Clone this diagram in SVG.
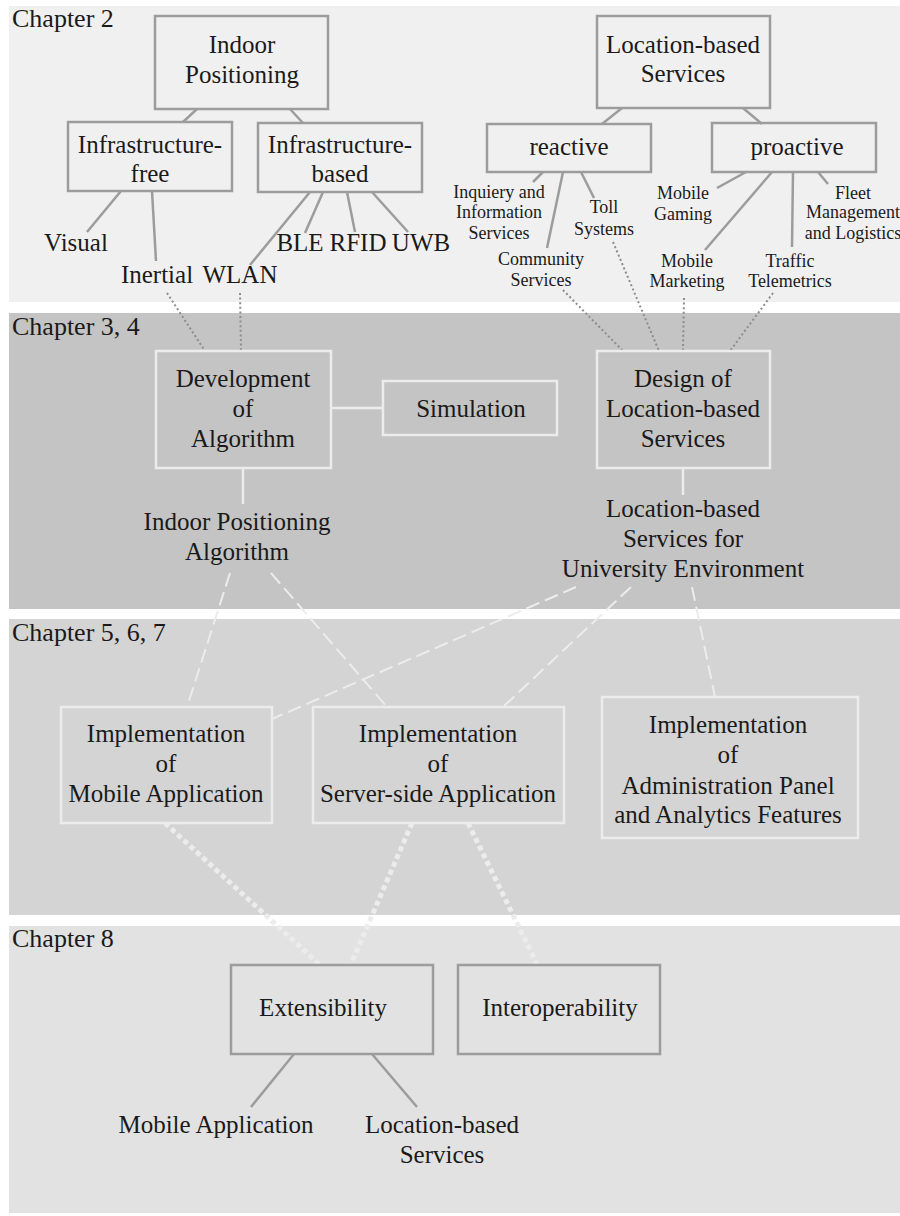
<svg xmlns="http://www.w3.org/2000/svg" width="900" height="1216" viewBox="0 0 900 1216">
<style>
text{font-family:"Liberation Serif","DejaVu Serif",serif;fill:#1a1a1a;text-anchor:middle}
.big{font-size:25px}
.sm{font-size:18px}
.ch{font-size:26px;text-anchor:start}
.bx1{fill:none;stroke:#9c9c9c;stroke-width:2.5}
.bxw{fill:none;stroke:#ececec;stroke-width:2.5}
.ln{stroke:#9c9c9c;stroke-width:2.5;fill:none}
.lnw{stroke:#ececec;stroke-width:2.5;fill:none}
.dot{stroke:#8c8c8c;stroke-width:2;stroke-dasharray:2 2.6;fill:none}
.dash{stroke:#ececec;stroke-width:2;stroke-dasharray:14 6;fill:none}
.tdot{stroke:#ececec;stroke-width:5;stroke-dasharray:5 3.5;fill:none}
</style>
<rect width="900" height="1216" fill="#ffffff"/>
<g id="bands">
<rect x="9" y="6" width="891" height="296" fill="#f0f0f0"/>
<rect x="9" y="313" width="891" height="296" fill="#c4c4c4"/>
<rect x="9" y="619" width="891" height="296" fill="#d4d4d4"/>
<rect x="9" y="926" width="891" height="287" fill="#e2e2e2"/>
<text class="ch" x="12" y="27">Chapter 2</text>
<text class="ch" x="12" y="335">Chapter 3, 4</text>
<text class="ch" x="12" y="641">Chapter 5, 6, 7</text>
<text class="ch" x="12" y="947">Chapter 8</text>
</g>
<g id="connectors">
<line class="ln" x1="197" y1="109" x2="183" y2="122"/>
<line class="ln" x1="290" y1="109" x2="303" y2="123"/>
<line class="ln" x1="121" y1="191" x2="87" y2="232"/>
<line class="ln" x1="152" y1="191" x2="156" y2="261"/>
<line class="ln" x1="310" y1="192" x2="250" y2="265"/>
<line class="ln" x1="323" y1="192" x2="305" y2="233"/>
<line class="ln" x1="347" y1="192" x2="355" y2="232"/>
<line class="ln" x1="372" y1="192" x2="408" y2="232"/>
<line class="ln" x1="622" y1="108" x2="602" y2="124"/>
<line class="ln" x1="743" y1="108" x2="762" y2="124"/>
<line class="ln" x1="543" y1="172" x2="533" y2="182"/>
<line class="ln" x1="563" y1="172" x2="547" y2="248"/>
<line class="ln" x1="581" y1="172" x2="594" y2="198"/>
<line class="ln" x1="746" y1="172" x2="717" y2="188"/>
<line class="ln" x1="772" y1="172" x2="705" y2="250"/>
<line class="ln" x1="793" y1="172" x2="792" y2="247"/>
<line class="ln" x1="818" y1="172" x2="828" y2="184"/>
<line class="dot" x1="167" y1="293" x2="205" y2="351"/>
<line class="dot" x1="240" y1="293" x2="241" y2="351"/>
<line class="dot" x1="563" y1="290" x2="623" y2="351"/>
<line class="dot" x1="613" y1="242" x2="659" y2="351"/>
<line class="dot" x1="684" y1="298" x2="683" y2="351"/>
<line class="dot" x1="773" y1="293" x2="730" y2="351"/>
<line class="lnw" x1="331" y1="408" x2="383" y2="408"/>
<line class="lnw" x1="243" y1="468" x2="243" y2="504"/>
<line class="lnw" x1="683" y1="468" x2="683" y2="495"/>
<line class="dash" x1="230" y1="573" x2="187" y2="707"/>
<line class="dash" x1="271" y1="573" x2="387" y2="707"/>
<line class="dash" x1="576" y1="587" x2="272" y2="719"/>
<line class="dash" x1="631" y1="587" x2="503" y2="707"/>
<line class="dash" x1="692" y1="587" x2="715" y2="697"/>
<line class="tdot" x1="165" y1="823" x2="319" y2="964"/>
<line class="tdot" x1="412" y1="823" x2="351" y2="964"/>
<line class="tdot" x1="468" y1="823" x2="537" y2="964"/>
<line class="ln" x1="294" y1="1054" x2="251" y2="1107"/>
<line class="ln" x1="372" y1="1054" x2="417" y2="1107"/>
</g>
<g id="indoor-positioning"><rect class="bx1" x="155" y="16" width="173" height="93"/><text class="big" x="242" y="53">Indoor</text><text class="big" x="242" y="83">Positioning</text></g>
<g id="infra-free"><rect class="bx1" x="68" y="122" width="164" height="69"/><text class="big" x="150" y="153">Infrastructure-</text><text class="big" x="150" y="182">free</text></g>
<g id="infra-based"><rect class="bx1" x="258" y="123" width="164" height="69"/><text class="big" x="340" y="153">Infrastructure-</text><text class="big" x="340" y="182">based</text></g>
<g id="visual"><text class="big" x="76" y="251">Visual</text></g>
<g id="inertial"><text class="big" x="157" y="283">Inertial</text></g>
<g id="wlan"><text class="big" x="240" y="283">WLAN</text></g>
<g id="ble"><text class="big" x="300" y="251">BLE</text></g>
<g id="rfid"><text class="big" x="358" y="251">RFID</text></g>
<g id="uwb"><text class="big" x="421" y="251">UWB</text></g>
<g id="lbs"><rect class="bx1" x="597" y="16" width="173" height="92"/><text class="big" x="683" y="53">Location-based</text><text class="big" x="683" y="82">Services</text></g>
<g id="reactive"><rect class="bx1" x="487" y="124" width="164" height="48"/><text class="big" x="569" y="155">reactive</text></g>
<g id="proactive"><rect class="bx1" x="712" y="123" width="164" height="49"/><text class="big" x="797" y="155">proactive</text></g>
<g id="inquiery"><text class="sm" x="499" y="198">Inquiery and</text><text class="sm" x="499" y="218">Information</text><text class="sm" x="499" y="239">Services</text></g>
<g id="toll"><text class="sm" x="604" y="213">Toll</text><text class="sm" x="604" y="235">Systems</text></g>
<g id="community"><text class="sm" x="541" y="265">Community</text><text class="sm" x="541" y="286">Services</text></g>
<g id="mobile-gaming"><text class="sm" x="683" y="199">Mobile</text><text class="sm" x="683" y="220">Gaming</text></g>
<g id="mobile-marketing"><text class="sm" x="687" y="267">Mobile</text><text class="sm" x="687" y="287">Marketing</text></g>
<g id="traffic"><text class="sm" x="790" y="267">Traffic</text><text class="sm" x="790" y="287">Telemetrics</text></g>
<g id="fleet"><text class="sm" x="853" y="199">Fleet</text><text class="sm" x="853" y="218">Management</text><text class="sm" x="853" y="239">and Logistics</text></g>
<g id="development"><rect class="bxw" x="156" y="351" width="175" height="117"/><text class="big" x="243" y="387">Development</text><text class="big" x="243" y="417">of</text><text class="big" x="243" y="447">Algorithm</text></g>
<g id="simulation"><rect class="bxw" x="383" y="381" width="174" height="54"/><text class="big" x="471" y="417">Simulation</text></g>
<g id="design-lbs"><rect class="bxw" x="597" y="351" width="173" height="117"/><text class="big" x="683" y="387">Design of</text><text class="big" x="683" y="417">Location-based</text><text class="big" x="683" y="447">Services</text></g>
<g id="ip-algorithm"><text class="big" x="237" y="530">Indoor Positioning</text><text class="big" x="237" y="560">Algorithm</text></g>
<g id="lbs-university"><text class="big" x="683" y="517">Location-based</text><text class="big" x="683" y="547">Services for</text><text class="big" x="683" y="577">University Environment</text></g>
<g id="impl-mobile"><rect class="bxw" x="61" y="707" width="211" height="116"/><text class="big" x="166" y="742">Implementation</text><text class="big" x="166" y="772">of</text><text class="big" x="166" y="802">Mobile Application</text></g>
<g id="impl-server"><rect class="bxw" x="313" y="707" width="251" height="116"/><text class="big" x="438" y="742">Implementation</text><text class="big" x="438" y="772">of</text><text class="big" x="438" y="802">Server-side Application</text></g>
<g id="impl-admin"><rect class="bxw" x="602" y="697" width="256" height="141"/><text class="big" x="728" y="733">Implementation</text><text class="big" x="728" y="763">of</text><text class="big" x="728" y="794">Administration Panel</text><text class="big" x="728" y="823">and Analytics Features</text></g>
<g id="extensibility"><rect class="bx1" x="231" y="965" width="202" height="89"/><text class="big" x="323" y="1016">Extensibility</text></g>
<g id="interoperability"><rect class="bx1" x="458" y="965" width="202" height="89"/><text class="big" x="560" y="1016">Interoperability</text></g>
<g id="ext-mobile"><text class="big" x="216" y="1133">Mobile Application</text></g>
<g id="ext-lbs"><text class="big" x="442" y="1133">Location-based</text><text class="big" x="442" y="1163">Services</text></g>
</svg>
